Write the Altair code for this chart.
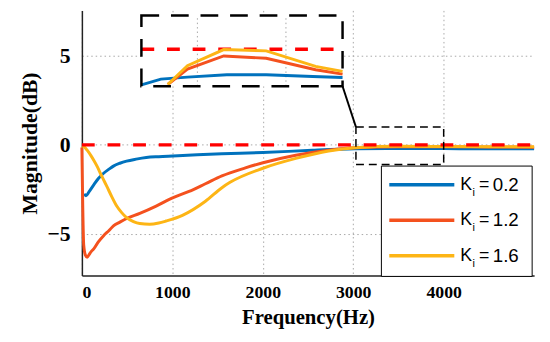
import altair as alt
import pandas as pd

# ---------------- data ----------------
k_values = [0.2, 1.2, 1.6]
series_names = [f"Kᵢ = {k}" for k in k_values]
series_colors = ["#0072BD", "#F4511E", "#FDB515"]

blue_f = [25, 45, 80, 131, 180, 240, 300, 349, 420, 494, 600, 712, 850, 1003, 1275, 1548, 2002, 2547, 3019, 3500, 4000, 4500, 5000]
blue_db = [-2.75, -2.85, -2.62, -2.24, -1.9, -1.59, -1.36, -1.19, -1.03, -0.91, -0.8, -0.71, -0.66, -0.62, -0.55, -0.5, -0.43, -0.3, -0.22, -0.2, -0.21, -0.22, -0.22]

orange_f = [0, 8, 20, 40, 58, 80, 100, 131, 180, 240, 300, 349, 420, 494, 640, 821, 1003, 1185, 1366, 1548, 1800, 2002, 2365, 2728, 3019, 3500, 4000, 4500, 5000]
orange_db = [-0.15, -3.0, -5.6, -6.2, -6.3, -6.15, -6.0, -5.83, -5.45, -5.09, -4.8, -4.54, -4.33, -4.13, -3.84, -3.43, -2.97, -2.61, -2.18, -1.74, -1.3, -1.0, -0.58, -0.3, -0.16, -0.1, -0.1, -0.12, -0.13]

yellow_f = [0, 30, 58, 100, 131, 170, 204, 240, 276, 330, 385, 440, 494, 570, 640, 749, 850, 930, 1112, 1366, 1548, 1638, 2002, 2365, 2728, 3019, 3500, 4000, 4500, 5000]
yellow_db = [-0.05, -0.12, -0.3, -0.6, -0.86, -1.22, -1.59, -1.96, -2.33, -2.9, -3.43, -3.8, -4.08, -4.3, -4.41, -4.45, -4.38, -4.27, -3.95, -3.16, -2.4, -2.1, -1.31, -0.76, -0.34, -0.16, -0.08, -0.09, -0.1, -0.11]

# zoomed-in (inset) view of the 3000-4000 Hz region
inset_blue_f = [3030, 3124, 3252, 3442, 3632, 3856, 4000]
inset_blue_db = [-1.06, -0.89, -0.83, -0.76, -0.76, -0.81, -0.84]
inset_orange_f = [3157, 3252, 3427, 3632, 3870, 4000]
inset_orange_db = [-1.05, -0.59, -0.20, -0.27, -0.61, -0.74]
inset_yellow_f = [3157, 3252, 3427, 3632, 3870, 4000]
inset_yellow_db = [-1.05, -0.49, -0.01, -0.05, -0.51, -0.66]
inset_grid_f = [3300, 3727]

reference_db = 0.0
x_ticks = [0, 1000, 2000, 3000, 4000]
y_ticks = [-5, 0, 5]

# ---------------- layout constants ----------------
X_DOMAIN = [0, 5000]
Y_DOMAIN = [-7.32, 7.54]
W, H = 459, 269
zoom_f = [3030, 4000]
zoom_db = [-1.1, 1.0]
inset_f = [658, 2882]
inset_db = [3.29, 7.25]


def px_f(px):  # plot-area pixel -> Hz
    return X_DOMAIN[0] + px * (X_DOMAIN[1] - X_DOMAIN[0]) / W


def px_db_expr(py_expr):  # plot-area pixel (from top) expression -> dB expression
    return f"{Y_DOMAIN[1]} - ({py_expr}) * {(Y_DOMAIN[1] - Y_DOMAIN[0]) / H}"


# legend geometry (plot-area pixels)
LEG_LEFT, LEG_RIGHT, LEG_TOP, LEG_BOTTOM = 304, 457, 158, 270
LEG_ROW0, LEG_ROW_STEP = 177, 36
LEG_LINE0, LEG_LINE1 = 312, 378
LEG_K, LEG_SUB, LEG_EQ, LEG_VAL = 384, 396.5, 403, 417

# ---------------- tables ----------------
def long_table(groups):
    rows = []
    for name, fs, ds in groups:
        for i, (f, d) in enumerate(zip(fs, ds)):
            rows.append({"series": name, "f": f, "db": d, "order": i})
    return pd.DataFrame(rows)


main_df = long_table([(series_names[0], blue_f, blue_db),
                      (series_names[1], orange_f, orange_db),
                      (series_names[2], yellow_f, yellow_db)])
inset_df = long_table([(series_names[0], inset_blue_f, inset_blue_db),
                       (series_names[1], inset_orange_f, inset_orange_db),
                       (series_names[2], inset_yellow_f, inset_yellow_db)])

sx = (inset_f[1] - inset_f[0]) / (zoom_f[1] - zoom_f[0])
sy = (inset_db[1] - inset_db[0]) / (zoom_db[1] - zoom_db[0])
fx = f"{inset_f[0]} + (datum.f - {zoom_f[0]}) * {sx}"
fy = f"{inset_db[0]} + (datum.db - ({zoom_db[0]})) * {sy}"

box_df = pd.DataFrame([{"f0": zoom_f[0], "f1": zoom_f[1], "d0": zoom_db[0], "d1": zoom_db[1]}])
inset_box_df = pd.DataFrame([{"f0": inset_f[0], "f1": inset_f[1], "d0": inset_db[0], "d1": inset_db[1]}])
conn_df = pd.DataFrame([{"f0": inset_f[1], "d0": inset_db[0], "f1": zoom_f[0], "d1": zoom_db[1]}])
ref_df = pd.DataFrame([{"f0": X_DOMAIN[0], "f1": X_DOMAIN[1], "db": reference_db}])
inset_ref_df = pd.DataFrame([{"f0": zoom_f[0], "f1": zoom_f[1], "db": reference_db}])
inset_grid_df = pd.DataFrame({"f": inset_grid_f})
legend_df = pd.DataFrame({"series": series_names,
                          "val": [str(k) for k in k_values],
                          "row": list(range(len(series_names)))})
legend_box_df = pd.DataFrame([{"f0": px_f(LEG_LEFT), "f1": px_f(LEG_RIGHT)}])

# ---------------- scales / axes ----------------
xs = alt.Scale(domain=X_DOMAIN, nice=False, zero=False)
ys = alt.Scale(domain=Y_DOMAIN, nice=False, zero=False)
serif = "Liberation Serif"
x_axis = alt.Axis(values=x_ticks, title="Frequency(Hz)", format="d", labelFont=serif,
                  labelFontWeight="bold", labelFontSize=18, labelColor="black",
                  titleFont=serif, titleFontWeight="bold", titleFontSize=21, titleColor="black",
                  labelPadding=8, titlePadding=6, ticks=False, domainColor="#222", domainWidth=1.5,
                  grid=True, gridDash=[1.5, 3], gridColor="#a8a8a8", gridWidth=1)
y_axis = alt.Axis(values=y_ticks, title="Magnitude(dB)", labelFont=serif,
                  labelFontWeight="bold", labelFontSize=22, labelColor="black",
                  titleFont=serif, titleFontWeight="bold", titleFontSize=22, titleColor="black",
                  labelPadding=12, titlePadding=6, ticks=False, domainColor="#222", domainWidth=1.5,
                  grid=True, gridDash=[1.5, 3], gridColor="#a8a8a8", gridWidth=1)


def X(field):
    return alt.X(field, type="quantitative", scale=xs, axis=x_axis)


def Y(field):
    return alt.Y(field, type="quantitative", scale=ys, axis=y_axis)


color = alt.Color("series:N", scale=alt.Scale(domain=series_names, range=series_colors), legend=None)

curves = alt.Chart(main_df).mark_line(strokeWidth=3, interpolate="monotone").encode(
    x=X("f"), y=Y("db"), color=color, order="order:Q")

red = alt.Chart(ref_df).mark_rule(color="#FF0000", strokeWidth=3.5, strokeDash=[13, 13]).encode(
    x=X("f0"), x2="f1", y=Y("db"))

zoom_box = alt.Chart(box_df).mark_rect(fillOpacity=0, stroke="black", strokeWidth=1.5,
                                       strokeDash=[8, 5]).encode(
    x=X("f0"), x2="f1", y=Y("d0"), y2="d1")

connector = alt.Chart(conn_df).mark_rule(color="black", strokeWidth=2).encode(
    x=X("f0"), y=Y("d0"), x2="f1", y2="d1")

inset_bg = alt.Chart(inset_box_df).mark_rect(fill="white").encode(
    x=X("f0"), x2="f1", y=Y("d0"), y2="d1")

inset_vgrid = alt.Chart(inset_grid_df).transform_calculate(ix=fx).transform_calculate(
    y0=str(inset_db[0]), y1=str(inset_db[1])).mark_rule(
    color="#a8a8a8", strokeWidth=1, strokeDash=[1.5, 3]).encode(
    x=X("ix"), y=Y("y0"), y2="y1")

inset_red = alt.Chart(inset_ref_df).transform_calculate(
    ix0=f"{inset_f[0]} + (datum.f0 - {zoom_f[0]}) * {sx}",
    ix1=f"{inset_f[0]} + (datum.f1 - {zoom_f[0]}) * {sx}",
    iy=fy).mark_rule(color="#FF0000", strokeWidth=3.5, strokeDash=[13, 13]).encode(
    x=X("ix0"), x2="ix1", y=Y("iy"))

inset_curves = alt.Chart(inset_df).transform_calculate(ix=fx, iy=fy).mark_line(
    strokeWidth=3).encode(x=X("ix"), y=Y("iy"), color=color, order="order:Q")

inset_border = alt.Chart(inset_box_df).mark_rect(fillOpacity=0, stroke="black", strokeWidth=2.5,
                                                 strokeDash=[18, 12]).encode(
    x=X("f0"), x2="f1", y=Y("d0"), y2="d1")

# ---------------- legend (drawn as marks so the subscript can be shown) ----------------
leg_box = alt.Chart(legend_box_df).transform_calculate(
    d0=px_db_expr(LEG_BOTTOM), d1=px_db_expr(LEG_TOP)).mark_rect(
    fill="white", stroke="black", strokeWidth=1).encode(
    x=X("f0"), x2="f1", y=Y("d0"), y2="d1")

leg_base = alt.Chart(legend_df).transform_calculate(
    ly=px_db_expr(f"{LEG_ROW0} + {LEG_ROW_STEP} * datum.row"),
    lys=px_db_expr(f"{LEG_ROW0 + 8} + {LEG_ROW_STEP} * datum.row"),
    lx0=str(px_f(LEG_LINE0)), lx1=str(px_f(LEG_LINE1)),
    lk=str(px_f(LEG_K)), lsub=str(px_f(LEG_SUB)), leq=str(px_f(LEG_EQ)),
    lval=str(px_f(LEG_VAL)))

txt = dict(align="left", baseline="middle", font="Liberation Sans", color="black")
leg_lines = leg_base.mark_rule(strokeWidth=3.5).encode(
    x=X("lx0"), x2="lx1", y=Y("ly"), color=color)
leg_k = leg_base.mark_text(fontSize=18, **txt).encode(x=X("lk"), y=Y("ly"), text=alt.value("K"))
leg_sub = leg_base.mark_text(fontSize=11, **txt).encode(x=X("lsub"), y=Y("lys"), text=alt.value("i"))
leg_eq = leg_base.mark_text(fontSize=18, **txt).encode(x=X("leq"), y=Y("ly"), text=alt.value("="))
leg_val = leg_base.mark_text(fontSize=19, **txt).encode(x=X("lval"), y=Y("ly"), text="val:N")

chart = alt.layer(curves, red, zoom_box, connector, inset_bg, inset_vgrid, inset_red,
                  inset_curves, inset_border, leg_box, leg_lines, leg_k, leg_sub,
                  leg_eq, leg_val).properties(
    width=W, height=H,
    autosize=alt.AutoSizeParams(type="none"),
    padding={"left": 75, "top": 0, "right": 8, "bottom": 57},
).configure_view(stroke=None)

chart.save("out.html", embed_options={"renderer": "svg", "actions": False})
